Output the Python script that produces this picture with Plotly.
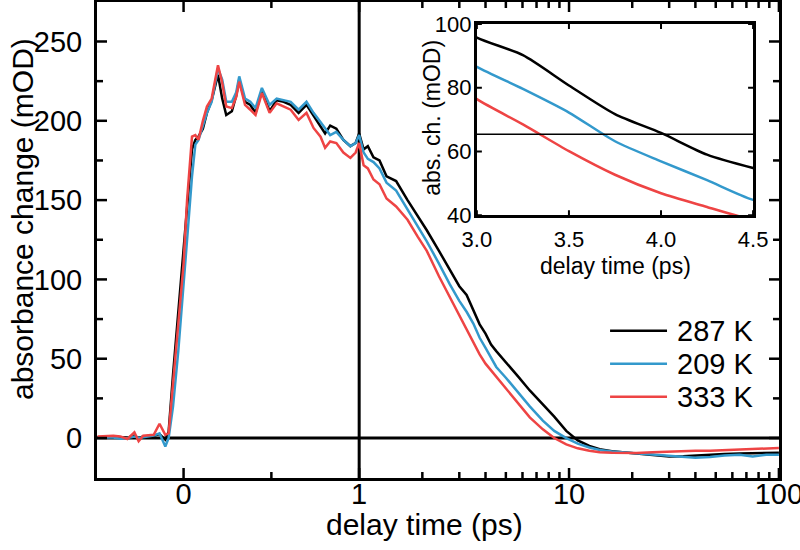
import numpy as np
import plotly.graph_objects as go

# ---------------- data ----------------
delay_ps = [
    -0.49, -0.45, -0.40, -0.36, -0.32, -0.28, -0.256, -0.23, -0.20, -0.17, -0.137, -0.104, -0.085, -0.06, -0.03,
    0.0, 0.02, 0.048, 0.067, 0.085, 0.11, 0.133, 0.16, 0.196, 0.22, 0.243, 0.275, 0.30, 0.317, 0.35, 0.38, 0.41,
    0.446, 0.49, 0.53, 0.57, 0.61, 0.655, 0.70, 0.74, 0.78, 0.806, 0.835, 0.87, 0.91, 0.95, 0.98, 1.0,
    1.05, 1.1, 1.17, 1.25, 1.35, 1.5, 1.7, 1.9, 2.1, 2.4, 2.7, 3.0, 3.25, 3.5, 3.75, 4.0, 4.25, 4.5,
    5.0, 5.7, 6.5, 7.5, 8.5, 9.7, 11, 12.5, 14, 16, 18, 21, 25, 30, 35, 40, 47, 55, 65, 75, 87, 100,
]

abs_287K = [
    0.5, 0.3, 0.8, 0.5, 0.2, 1.5, 0.0, 1.0, 1.0, 1.5, 2.5, -1.0, 4.0, 40, 80,
    115, 145, 182, 188, 190, 195, 205, 213, 229, 214, 203.7, 206, 216, 226, 212, 210, 205,
    219, 206, 213, 212, 210, 205, 210, 203, 196, 192, 197, 195, 188, 184, 186, 192,
    182, 184, 177, 175, 165, 162, 150, 140, 131, 118, 106, 95.7, 90.2, 80.7, 71.7, 65.8, 59, 54.8,
    48, 39, 30, 21, 13.5, 4.5, -1.5, -5, -7, -8.4, -9, -10, -11, -11.6, -11.5, -11, -10.5, -10, -9.8, -9.5, -9.3, -9.3,
]

abs_209K = [
    0.0, 0.5, 0.3, -0.5, 0.0, 1.0, 0.0, 0.5, 1.0, 1.5, 3.0, -5.3, 0.0, 20, 55,
    95, 125, 165, 185, 188, 197, 205, 212, 233, 226, 212, 212, 218, 228, 214, 212, 208,
    220.7, 210, 214, 213, 212, 207, 212, 205, 199, 195, 191, 193, 188, 184, 186, 191,
    180, 176, 174, 170, 161, 156, 144, 133, 124, 110, 97, 86.5, 79.6, 72.2, 63.2, 56.9, 51, 44.8,
    38, 29, 20, 11, 4.5, 0, -3.5, -6, -7.5, -8.5, -9, -9.5, -10, -11, -11.5, -12.4, -12, -11, -10.5, -11.6, -10.5, -10.5,
]

abs_333K = [
    1.0, 1.2, 1.5, 1.0, -0.6, 3.6, -2.0, 1.5, 1.8, 2.0, 9.0, 2.0, 3.0, 35, 75,
    110, 150, 190, 191, 188, 200, 209, 214, 235, 224, 209, 208, 215, 224.7, 210, 207, 203.7,
    217.5, 205, 211, 209, 207, 200.5, 205, 195.5, 190, 183, 187, 186, 180, 176.6, 180, 186,
    172, 170, 163, 160, 151, 146, 137.6, 127, 118, 102, 89, 76.4, 68.5, 60.1, 52.7, 46.9, 42.6, 38.4,
    31, 22, 13, 5.5, 0, -4, -6.5, -8, -9, -9.3, -9.5, -9.5, -9, -8.5, -8.4, -8, -8, -7.6, -7.4, -7, -6.5, -6.3,
]

series_names = ["287 K", "209 K", "333 K"]
series_values = [abs_287K, abs_209K, abs_333K]
series_colors = ["#000000", "#3399CC", "#EE4444"]

x_major_ticks = [0, 1, 10, 100]
x_major_labels = ["0", "1", "10", "100"]
x_minor_ticks = [0.5, 2, 3, 4, 5, 6, 7, 8, 9, 20, 30, 40, 50, 60, 70, 80, 90]
y_major_ticks = [0, 50, 100, 150, 200, 250]
y_minor_ticks = [25, 75, 125, 175, 225]

inset_x_ticks = [3.0, 3.5, 4.0, 4.5]
inset_y_ticks = [40, 60, 80, 100]
inset_level = 65.4   # horizontal reference level in the inset (mOD)

x_title = "delay time (ps)"
y_title = "absorbance change (mOD)"
inset_x_title = "delay time (ps)"
inset_y_title = "abs. ch. (mOD)"

# ---------------- axis scale: linear up to 1 ps, logarithmic above ----------------
DECADE = 1.1952  # width of one decade relative to the 0..1 ps linear segment


def warp(t):
    t = np.asarray(t, dtype=float)
    return np.where(t <= 1, t, 1 + DECADE * np.log10(np.clip(t, 1e-12, None)))


FONT = "Liberation Sans, Arial, Helvetica, sans-serif"
W, H = 800, 550
M = dict(l=97, r=21, t=2, b=72)
PLOT_W = W - M["l"] - M["r"]
PLOT_H = H - M["t"] - M["b"]
INSET_XDOM = [0.557, 0.962]
INSET_YDOM = [0.552, 0.954]
INSET_W = PLOT_W * (INSET_XDOM[1] - INSET_XDOM[0])
INSET_H = PLOT_H * (INSET_YDOM[1] - INSET_YDOM[0])

X_RANGE = [-0.493, float(warp(100)) + 0.0005]
Y_RANGE = [-25.2, 274.9]
IX_RANGE = [3.0, 4.5]
IY_RANGE = [40, 100]

fig = go.Figure()

for name, vals, col in zip(series_names, series_values, series_colors):
    fig.add_trace(go.Scatter(x=warp(delay_ps).tolist(), y=vals, mode="lines", name=name,
                             line=dict(color=col, width=2.5), showlegend=False,
                             xaxis="x", yaxis="y"))

# inset: same data, 3.0 - 4.5 ps on a linear axis
t_arr = np.asarray(delay_ps, dtype=float)
sel = (t_arr >= 2.5) & (t_arr <= 5.0)
for name, vals, col in zip(series_names, series_values, series_colors):
    fig.add_trace(go.Scatter(x=t_arr[sel].tolist(), y=np.asarray(vals)[sel].tolist(), mode="lines",
                             name=name, line=dict(color=col, width=2.5, shape="spline", smoothing=0.7),
                             showlegend=False, xaxis="x2", yaxis="y2"))

# inset reference level
fig.add_shape(type="line", xref="x2 domain", yref="y2", x0=0, x1=1, y0=inset_level, y1=inset_level,
              line=dict(color="black", width=1.5))

# main reference lines: zero and the lin/log break at 1 ps
fig.add_shape(type="line", xref="paper", yref="y", x0=0, x1=1, y0=0, y1=0,
              line=dict(color="black", width=3), layer="below")
fig.add_shape(type="line", xref="x", yref="paper", x0=float(warp(1)), x1=float(warp(1)), y0=0, y1=1,
              line=dict(color="black", width=3), layer="below")


# ---------------- inward tick marks on all four sides, drawn through each subplot's axes ----------------
def tick_trace(xa, ya, xr, yr, w_px, h_px, xvals, yvals, length_px, width):
    dy = length_px * (yr[1] - yr[0]) / h_px
    dx = length_px * (xr[1] - xr[0]) / w_px
    xs, ys = [], []
    for v in xvals:
        v = float(v)
        xs += [v, v, None, v, v, None]
        ys += [yr[0], yr[0] + dy, None, yr[1], yr[1] - dy, None]
    for v in yvals:
        v = float(v)
        xs += [xr[0], xr[0] + dx, None, xr[1], xr[1] - dx, None]
        ys += [v, v, None, v, v, None]
    fig.add_trace(go.Scatter(x=xs, y=ys, mode="lines", line=dict(color="black", width=width),
                             hoverinfo="skip", showlegend=False, xaxis=xa, yaxis=ya,
                             connectgaps=False))


tick_trace("x", "y", X_RANGE, Y_RANGE, PLOT_W, PLOT_H,
           warp(x_major_ticks).tolist(), y_major_ticks, 10, 2.5)
tick_trace("x", "y", X_RANGE, Y_RANGE, PLOT_W, PLOT_H,
           warp(x_minor_ticks).tolist(), y_minor_ticks, 6, 2.5)
tick_trace("x2", "y2", IX_RANGE, IY_RANGE, INSET_W, INSET_H,
           inset_x_ticks, inset_y_ticks, 5, 2)

# legend (drawn manually to match line length / spacing)
leg_x0, leg_x1, leg_tx = 0.7523, 0.8358, 0.8476
leg_y0, leg_dy = 0.3093, 0.0693
for i, (name, col) in enumerate(zip(series_names, series_colors)):
    yy = leg_y0 - i * leg_dy
    fig.add_shape(type="line", xref="paper", yref="paper", x0=leg_x0, x1=leg_x1, y0=yy, y1=yy,
                  line=dict(color=col, width=2.5))
    fig.add_annotation(xref="paper", yref="paper", x=leg_tx, y=yy, text=name, showarrow=False,
                       xanchor="left", yanchor="middle", font=dict(size=29, color="black", family=FONT))

# axis titles (placed as in the reference)
title_specs = [
    (x_title, 0.480, -0.098, 0, 30),
    (y_title, -0.110, 0.544, -90, 30),
    (inset_x_title, 0.7597, 0.4457, 0, 23),
    (inset_y_title, 0.4914, 0.757, -90, 23),
]
for txt, px, py, ang, fs in title_specs:
    fig.add_annotation(xref="paper", yref="paper", x=px, y=py, text=txt, showarrow=False,
                       textangle=ang, xanchor="center", yanchor="middle",
                       font=dict(size=fs, color="black", family=FONT))

axis_common = dict(showline=True, linecolor="black", linewidth=3, mirror=True,
                   ticks="inside", tickcolor="rgba(0,0,0,0)", tickwidth=2.5, showgrid=False,
                   zeroline=False, automargin=False, ticklabeloverflow="allow")

fig.update_layout(
    template="none",
    width=W, height=H,
    margin=M,
    paper_bgcolor="white", plot_bgcolor="rgba(0,0,0,0)",
    font=dict(family=FONT, color="black"),
    xaxis=dict(range=X_RANGE, tickmode="array",
               tickvals=warp(x_major_ticks).tolist(), ticktext=x_major_labels,
               ticklen=10, tickfont=dict(size=29), ticklabelstandoff=-12,
               layer="above traces", **axis_common),
    yaxis=dict(range=Y_RANGE, tickmode="array", tickvals=y_major_ticks,
               ticklen=10, tickfont=dict(size=29), ticklabelstandoff=6,
               layer="above traces", **axis_common),
    xaxis2=dict(domain=INSET_XDOM, anchor="y2", range=IX_RANGE, tickmode="array",
                tickvals=inset_x_ticks, ticktext=[f"{v:.1f}" for v in inset_x_ticks],
                ticklen=5, tickfont=dict(size=22), ticklabelstandoff=2,
                **axis_common),
    yaxis2=dict(domain=INSET_YDOM, anchor="x2", range=IY_RANGE, tickmode="array",
                tickvals=inset_y_ticks, ticklen=5, tickfont=dict(size=22), ticklabelstandoff=-2,
                **axis_common),
)

fig.write_html("out.html", config={"displayModeBar": False},
               post_script="document.body.style.margin='0px';")
